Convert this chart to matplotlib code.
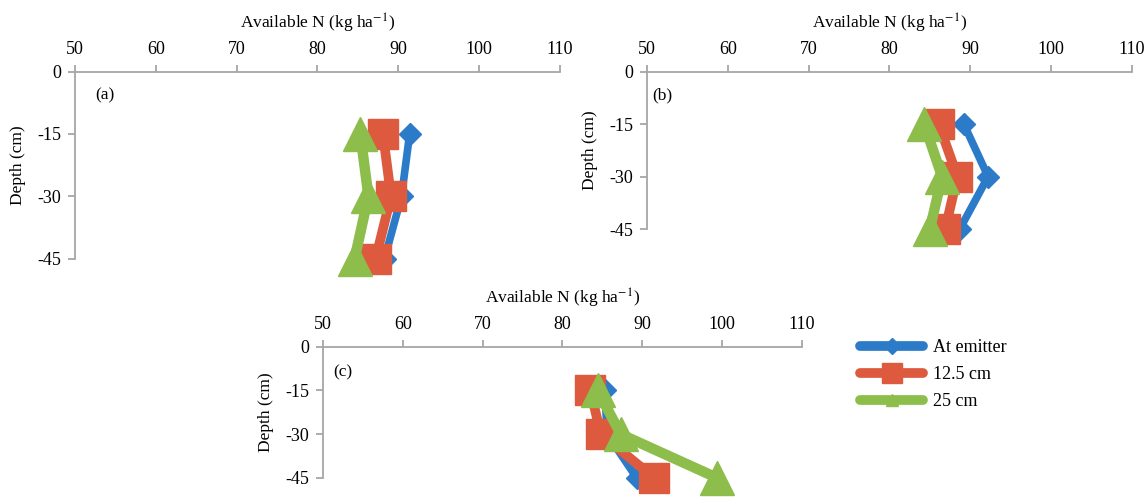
import matplotlib.pyplot as plt
from matplotlib.lines import Line2D

plt.rcParams['font.family'] = ['Liberation Serif', 'DejaVu Serif']
plt.rcParams['mathtext.fontset'] = 'stix'
plt.rcParams['axes.unicode_minus'] = False

depth = [-15, -30, -45]

# available N per panel (kg/ha)
a_emitter = [91.4, 90.4, 88.3]
a_125 = [88.1, 89.1, 87.2]
a_25 = [85.3, 86.3, 84.6]

b_emitter = [89.2, 92.2, 88.7]
b_125 = [86.1, 88.4, 86.9]
b_25 = [84.3, 86.5, 85.0]

c_emitter = [85.3, 85.6, 89.3]
c_125 = [83.5, 84.8, 91.5]
c_25 = [84.4, 87.3, 99.4]

series_names = ['At emitter', '12.5 cm', '25 cm']
panel_labels = ['(a)', '(b)', '(c)']
x_ticks = [50, 60, 70, 80, 90, 100, 110]
y_ticks = [0, -15, -30, -45]

blue = '#2b7bc9'
red = '#dd5a3e'
green = '#8dbd4b'
axis_col = '#a6a6a6'

fig = plt.figure(figsize=(11.47, 5.04), dpi=100)

# axes rectangles
ax_a = fig.add_axes([0.0654, 0.4871, 0.4228, 0.3706])
ax_b = fig.add_axes([0.5641, 0.5456, 0.4228, 0.3121])
ax_c = fig.add_axes([0.2816, 0.0516, 0.4176, 0.2605])

panels = [
    (ax_a, a_emitter, a_125, a_25, (0.041, 0.875)),
    (ax_b, b_emitter, b_125, b_25, (0.010, 0.852)),
    (ax_c, c_emitter, c_125, c_25, (0.021, 0.807)),
]

for i, (ax, em, r125, r25, lab_pos) in enumerate(panels):
    ax.plot(em, depth, color=blue, lw=5.5, marker='D', ms=11,
            solid_joinstyle='miter', clip_on=False, zorder=3)
    ax.plot(r125, depth, color=red, lw=7, marker='s', ms=22,
            clip_on=False, zorder=4)
    ax.plot(r25, depth, color=green, lw=7.5, marker='^', ms=24,
            clip_on=False, zorder=5)

    ax.set_xlim(50, 110)
    ax.set_ylim(-45, 0)
    ax.set_xticks(x_ticks)
    ax.set_yticks(y_ticks)
    ax.xaxis.tick_top()
    ax.xaxis.set_label_position('top')
    ax.set_xlabel('Available N (kg ha$^{-1}$)', fontsize=12.5, labelpad=9)
    ax.set_ylabel('Depth (cm)', fontsize=12.5, labelpad=8)

    for s in ['bottom', 'right']:
        ax.spines[s].set_visible(False)
    for s in ['top', 'left']:
        ax.spines[s].set_color(axis_col)
        ax.spines[s].set_linewidth(1.3)
    ax.tick_params(axis='both', colors=axis_col, width=1.3, length=5,
                   labelsize=13, labelcolor='black')
    ax.tick_params(axis='x', pad=5)
    ax.tick_params(axis='y', pad=5)
    ax.patch.set_alpha(0)

    ax.text(lab_pos[0], lab_pos[1], panel_labels[i], transform=ax.transAxes,
            ha='left', va='center', fontsize=12.5)

handles = [
    Line2D([], [], color=blue, lw=7, marker='D', ms=8, solid_capstyle='round'),
    Line2D([], [], color=red, lw=7, marker='s', ms=14, solid_capstyle='round'),
    Line2D([], [], color=green, lw=7, marker='^', ms=9, solid_capstyle='round'),
]
fig.legend(handles, series_names, loc='upper left',
           bbox_to_anchor=(0.742, 0.345), frameon=False, fontsize=13,
           handlelength=3.5, handletextpad=0.55, labelspacing=0.55,
           borderpad=0)

fig.savefig('out.png', dpi=100)
